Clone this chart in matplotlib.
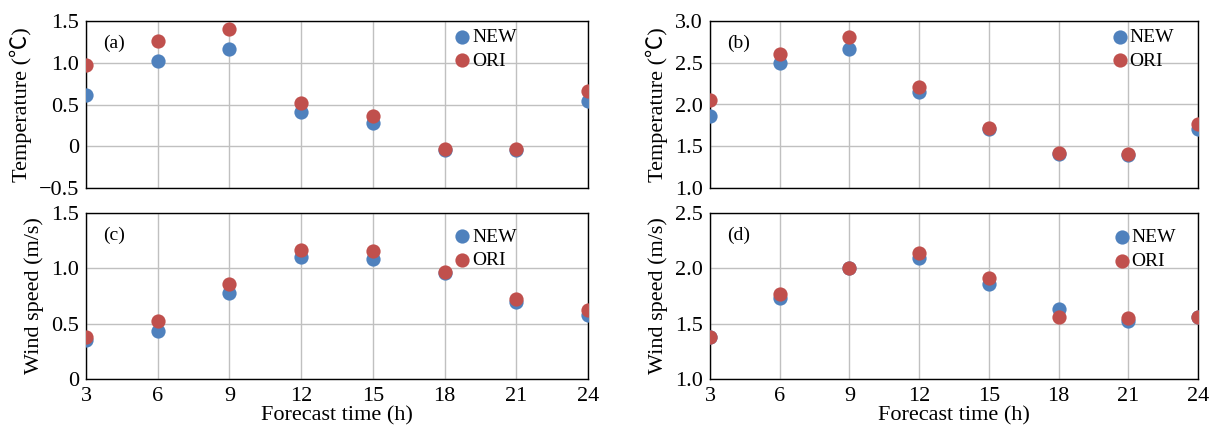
import matplotlib
matplotlib.use("Agg")
import matplotlib.pyplot as plt
from matplotlib.ticker import FuncFormatter

hours = [3, 6, 9, 12, 15, 18, 21, 24]
temp_a_new = [0.61, 1.02, 1.17, 0.41, 0.28, -0.04, -0.05, 0.54]
temp_a_ori = [0.97, 1.26, 1.41, 0.52, 0.36, -0.03, -0.03, 0.66]
temp_b_new = [1.86, 2.50, 2.66, 2.15, 1.71, 1.41, 1.40, 1.71]
temp_b_ori = [2.05, 2.61, 2.81, 2.21, 1.72, 1.42, 1.41, 1.77]
wind_c_new = [0.35, 0.43, 0.78, 1.10, 1.08, 0.96, 0.70, 0.58]
wind_c_ori = [0.38, 0.52, 0.86, 1.17, 1.16, 0.97, 0.72, 0.62]
wind_d_new = [1.38, 1.73, 2.00, 2.09, 1.86, 1.63, 1.52, 1.56]
wind_d_ori = [1.38, 1.77, 2.00, 2.14, 1.91, 1.56, 1.55, 1.56]

plt.rcParams['font.family'] = ['Liberation Serif', 'Noto Sans CJK SC', 'DejaVu Sans']
plt.rcParams['axes.unicode_minus'] = True

BLUE = '#4f81bd'
RED = '#c0504d'

W, H = 1213, 426
fig = plt.figure(figsize=(W / 100, H / 100), dpi=100)

def rect(l, r, t, b):
    return [l / W, 1 - b / H, (r - l) / W, (b - t) / H]

def fmt(v, pos):
    if abs(v) < 1e-9:
        return '0'
    s = f'{v:.1f}'
    return s.replace('-', '\u2212')

panels = [
    dict(rect=rect(86, 588, 21, 188), new=temp_a_new, ori=temp_a_ori, ylim=(-0.5, 1.5),
         yt=[-0.5, 0, 0.5, 1.0, 1.5], ylabel='Temperature (\u2103)', tag='(a)', bottom=False,
         leg=(0.738, 0.955)),
    dict(rect=rect(710, 1198, 21, 188), new=temp_b_new, ori=temp_b_ori, ylim=(1.0, 3.0),
         yt=[1.0, 1.5, 2.0, 2.5, 3.0], ylabel='Temperature (\u2103)', tag='(b)', bottom=False,
         leg=(0.828, 0.955)),
    dict(rect=rect(86, 588, 213, 379), new=wind_c_new, ori=wind_c_ori, ylim=(0, 1.5),
         yt=[0, 0.5, 1.0, 1.5], ylabel='Wind speed (m/s)', tag='(c)', bottom=True,
         leg=(0.738, 0.91)),
    dict(rect=rect(710, 1198, 213, 379), new=wind_d_new, ori=wind_d_ori, ylim=(1.0, 2.5),
         yt=[1.0, 1.5, 2.0, 2.5], ylabel='Wind speed (m/s)', tag='(d)', bottom=True,
         leg=(0.832, 0.905)),
]

for p in panels:
    ax = fig.add_axes(p['rect'])
    ax.set_xlim(3, 24)
    ax.set_ylim(*p['ylim'])
    ax.set_xticks(hours)
    ax.set_yticks(p['yt'])
    ax.yaxis.set_major_formatter(FuncFormatter(fmt))
    ax.grid(True, color='#c0c0c0', linewidth=1.0)
    ax.set_axisbelow(True)
    ax.tick_params(length=0, labelsize=16, pad=5)
    ax.tick_params(axis='x', pad=6)
    for sp in ax.spines.values():
        sp.set_color('black')
        sp.set_linewidth(1.0)
    ax.scatter(hours, p['new'], s=105, color=BLUE, label='NEW', zorder=3, linewidths=0)
    ax.scatter(hours, p['ori'], s=105, color=RED, label='ORI', zorder=3, linewidths=0)
    if p['bottom']:
        ax.set_xlabel('Forecast time (h)', fontsize=16, labelpad=0)
    else:
        ax.set_xticklabels([])
    ax.set_ylabel(p['ylabel'], fontsize=16, labelpad=5)
    ax.text(0.035, 0.865, p['tag'], transform=ax.transAxes, fontsize=14, va='center', ha='left')
    ax.legend(loc='upper left', bbox_to_anchor=p['leg'], frameon=False, fontsize=14,
              handlelength=0.6, handletextpad=0.2, borderpad=0, borderaxespad=0,
              labelspacing=0.3, scatterpoints=1)

fig.savefig('out.png', dpi=100)
